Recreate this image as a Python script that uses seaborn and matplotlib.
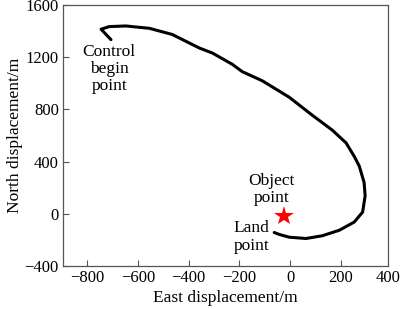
import matplotlib
matplotlib.use("Agg")
import matplotlib.pyplot as plt
import seaborn as sns
import pandas as pd

# trajectory (east, north) in metres
east = [-706, -745, -713, -647, -555, -465, -358, -307, -228, -189, -110, -4, 87,
        165, 220, 252, 272, 291, 295, 285, 252, 193, 126, 62, -4, -43, -63]
north = [1334, 1414, 1434, 1439, 1421, 1374, 1270, 1232, 1145, 1089, 1019, 893, 755,
         642, 543, 440, 365, 239, 138, 13, -63, -126, -168, -189, -179, -158, -143]
object_pt = (-25, -15)
x_ticks = [-800, -600, -400, -200, 0, 200, 400]
y_ticks = [-400, 0, 400, 800, 1200, 1600]

sns.set_style("white")
plt.rcParams['font.family'] = ['Liberation Serif', 'DejaVu Serif']
plt.rcParams['text.color'] = 'black'
plt.rcParams['axes.labelcolor'] = 'black'
plt.rcParams['xtick.color'] = 'black'
plt.rcParams['ytick.color'] = 'black'

df = pd.DataFrame({"east": east, "north": north})

fig = plt.figure(figsize=(4.0, 3.09), dpi=100)
ax = fig.add_axes([0.1575, 0.139, 0.8125, 0.845])
sns.lineplot(data=df, x="east", y="north", sort=False, color="black", lw=2.2, ax=ax,
             estimator=None)
ax.plot([object_pt[0]], [object_pt[1]], marker="*", color="red", markersize=15,
        linestyle="none", markeredgewidth=0)

ax.set_xlim(-895, 385)
ax.set_ylim(-400, 1600)
ax.set_xticks(x_ticks[:-1])
ax.set_yticks(y_ticks)
ax.set_xticklabels(["\u2212800", "\u2212600", "\u2212400", "\u2212200", "0", "200"])
ax.set_yticklabels(["\u2212400", "0", "400", "800", "1200", "1600"])
ax.tick_params(axis="both", direction="in", length=4, width=0.8, labelsize=12,
               pad=3, color="#555555", labelcolor="black", left=True, bottom=True)
ax.annotate("400", xy=(1.0, 0.0), xycoords="axes fraction", xytext=(0, -3),
            textcoords="offset points", ha="center", va="top", fontsize=12, color="black")
for s in ax.spines.values():
    s.set_color("#555555")
    s.set_linewidth(0.9)

ax.set_xlabel("East displacement/m", fontsize=12.5, labelpad=3, color="black")
ax.set_ylabel("North displacement/m", fontsize=12.5, labelpad=1, color="black")

ax.text(-713, 1110, "Control\nbegin\npoint", ha="center", va="center", fontsize=12.5,
        linespacing=1.1, color="black")
ax.text(-75, 189, "Object\npoint", ha="center", va="center", fontsize=12.5,
        linespacing=1.1, color="black")
ax.text(-153, -177, "Land\npoint", ha="center", va="center", fontsize=12.5,
        linespacing=1.1, color="black")

fig.savefig("out.png", dpi=100)
